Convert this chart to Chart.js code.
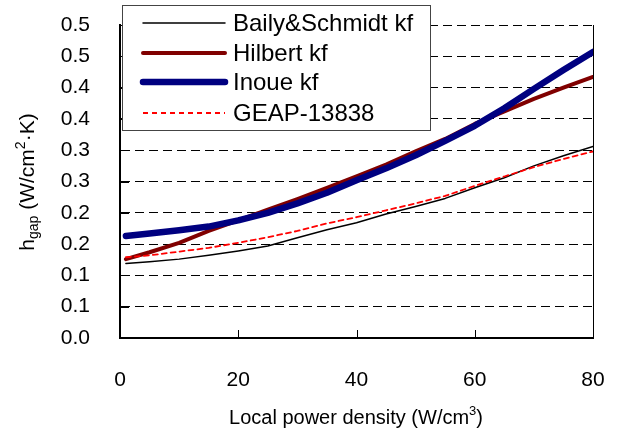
<!DOCTYPE html>
<html>
<head>
<meta charset="utf-8">
<script src="https://cdn.jsdelivr.net/npm/chart.js@4.4.0/dist/chart.umd.min.js"></script>
<style>
    html, body { margin: 0; padding: 0; background: #fff; }
</style>
</head>
<body>
<canvas id="gapChart" width="617" height="439"></canvas>
<script>
// values
var powerDensity = [1, 5, 10, 15, 20, 25, 30, 35, 40, 45, 50, 55, 60, 65, 70, 75, 80];
var bailySchmidt = [0.119, 0.122, 0.126, 0.132, 0.139, 0.147, 0.160, 0.173, 0.184, 0.198, 0.210, 0.223, 0.240, 0.256, 0.275, 0.291, 0.306];
var hilbert = [0.126, 0.137, 0.152, 0.171, 0.188, 0.205, 0.222, 0.240, 0.258, 0.277, 0.298, 0.318, 0.342, 0.362, 0.382, 0.400, 0.417];
var inoue = [0.163, 0.167, 0.172, 0.178, 0.188, 0.200, 0.215, 0.232, 0.252, 0.271, 0.292, 0.315, 0.339, 0.367, 0.398, 0.428, 0.457];
var geap = [0.129, 0.132, 0.138, 0.144, 0.152, 0.161, 0.171, 0.183, 0.193, 0.204, 0.215, 0.227, 0.243, 0.258, 0.273, 0.286, 0.298];

var xTickValues = [0, 20, 40, 60, 80];
var yTickValues = [0, 0.05, 0.1, 0.15, 0.2, 0.25, 0.3, 0.35, 0.4, 0.45, 0.5];
var yTickLabels = ['0.0', '0.1', '0.1', '0.2', '0.2', '0.3', '0.3', '0.4', '0.4', '0.5', '0.5'];

var fontFamily = '"Liberation Sans", Arial, sans-serif';

function toPoints(ys) {
    return powerDensity.map(function (x, i) { return { x: x, y: ys[i] }; });
}

// draws a row of text pieces (with sub/superscripts) centred on 0,0
function drawRuns(ctx, runs) {
    var total = 0;
    runs.forEach(function (r) {
        ctx.font = r.size + 'px ' + fontFamily;
        r.w = ctx.measureText(r.t).width;
        total += r.w;
    });
    var x = -total / 2;
    ctx.textAlign = 'left';
    ctx.textBaseline = 'alphabetic';
    runs.forEach(function (r) {
        ctx.font = r.size + 'px ' + fontFamily;
        ctx.fillText(r.t, x, 7 + (r.dy || 0));
        x += r.w;
    });
}

var framePlugin = {
    id: 'frame',
    afterDraw: function (chart) {
        var ctx = chart.ctx;
        var area = chart.chartArea;
        var xs = chart.scales.x;
        var ys = chart.scales.y;
        ctx.save();
        ctx.strokeStyle = '#000';
        ctx.lineWidth = 1;
        // right border
        ctx.beginPath();
        ctx.moveTo(area.right + 0.5, area.top);
        ctx.lineTo(area.right + 0.5, area.bottom);
        ctx.stroke();
        // inner tick marks
        xTickValues.forEach(function (v) {
            var px = Math.round(xs.getPixelForValue(v)) + 0.5;
            ctx.beginPath();
            ctx.moveTo(px, area.bottom);
            ctx.lineTo(px, area.bottom - 8);
            ctx.stroke();
        });
        yTickValues.forEach(function (v) {
            var py = Math.round(ys.getPixelForValue(v)) + 0.5;
            ctx.beginPath();
            ctx.moveTo(area.left, py);
            ctx.lineTo(area.left + 9, py);
            ctx.stroke();
        });

        // axis titles
        ctx.fillStyle = '#000';
        ctx.save();
        ctx.translate(356, 417);
        drawRuns(ctx, [
            { t: 'Local power density (W/cm', size: 20 },
            { t: '3', size: 13, dy: -9 },
            { t: ')', size: 20 }
        ]);
        ctx.restore();
        ctx.save();
        ctx.translate(27, 182);
        ctx.rotate(-Math.PI / 2);
        drawRuns(ctx, [
            { t: 'h', size: 21 },
            { t: 'gap', size: 14, dy: 4 },
            { t: ' (W/cm', size: 21 },
            { t: '2', size: 14, dy: -9 },
            { t: '\u00B7K)', size: 21 }
        ]);
        ctx.restore();

        // legend
        var box = { left: 122, top: 5, right: 430, bottom: 130 };
        ctx.fillStyle = '#fff';
        ctx.fillRect(box.left, box.top, box.right - box.left, box.bottom - box.top);
        ctx.strokeStyle = '#444';
        ctx.lineWidth = 1;
        ctx.strokeRect(box.left + 0.5, box.top + 0.5, box.right - box.left, box.bottom - box.top);
        var rows = [23, 53, 82, 113];
        chart.data.datasets.forEach(function (ds, i) {
            var y = rows[i];
            ctx.beginPath();
            ctx.strokeStyle = ds.borderColor;
            ctx.lineWidth = ds.borderWidth;
            ctx.lineCap = ds.borderDash ? 'butt' : 'round';
            ctx.setLineDash(ds.borderDash || []);
            ctx.moveTo(143, y);
            ctx.lineTo(225, y);
            ctx.stroke();
            ctx.setLineDash([]);
            ctx.fillStyle = '#000';
            ctx.font = '24px ' + fontFamily;
            ctx.textAlign = 'left';
            ctx.textBaseline = 'middle';
            ctx.fillText(ds.label, 233, y + 1);
        });
        ctx.restore();
    }
};

new Chart(document.getElementById('gapChart').getContext('2d'), {
    type: 'line',
    data: {
        datasets: [{
            label: 'Baily&Schmidt kf',
            data: toPoints(bailySchmidt),
            borderColor: '#000000',
            borderWidth: 1.5,
            order: 3
        }, {
            label: 'Hilbert kf',
            data: toPoints(hilbert),
            borderColor: '#800000',
            borderWidth: 4,
            order: 4
        }, {
            label: 'Inoue kf',
            data: toPoints(inoue),
            borderColor: '#000080',
            borderWidth: 6.5,
            order: 1
        }, {
            label: 'GEAP-13838',
            data: toPoints(geap),
            borderColor: '#FF0000',
            borderWidth: 1.8,
            borderDash: [5, 4],
            order: 2
        }]
    },
    options: {
        responsive: false,
        animation: false,
        layout: {
            padding: { left: 0, right: 24, top: 25, bottom: 0 }
        },
        elements: {
            point: { radius: 0 },
            line: { tension: 0, borderCapStyle: 'round', borderJoinStyle: 'round' }
        },
        plugins: {
            legend: { display: false },
            tooltip: { enabled: false }
        },
        scales: {
            x: {
                type: 'linear',
                min: 0,
                max: 80,
                afterBuildTicks: function (scale) {
                    scale.ticks = xTickValues.map(function (v) { return { value: v }; });
                },
                afterFit: function (scale) {
                    scale.height = 101;
                    scale.paddingLeft = 0;
                    scale.paddingRight = 0;
                },
                grid: { display: false, drawTicks: false },
                border: { display: true, color: '#000', width: 2 },
                ticks: {
                    color: '#000',
                    padding: 30,
                    maxRotation: 0,
                    font: { family: fontFamily, size: 21 }
                }
            },
            y: {
                min: 0,
                max: 0.5,
                afterBuildTicks: function (scale) {
                    scale.ticks = yTickValues.map(function (v) { return { value: v }; });
                },
                afterFit: function (scale) {
                    scale.width = 120;
                    scale.paddingTop = 0;
                    scale.paddingBottom = 0;
                },
                grid: { color: '#000', lineWidth: 1, drawTicks: false },
                border: { display: true, color: '#000', width: 2, dash: [9, 5] },
                ticks: {
                    color: '#000',
                    padding: 30,
                    font: { family: fontFamily, size: 21 },
                    callback: function (value, index) { return yTickLabels[index]; }
                }
            }
        }
    },
    plugins: [framePlugin]
});
</script>
</body>
</html>
